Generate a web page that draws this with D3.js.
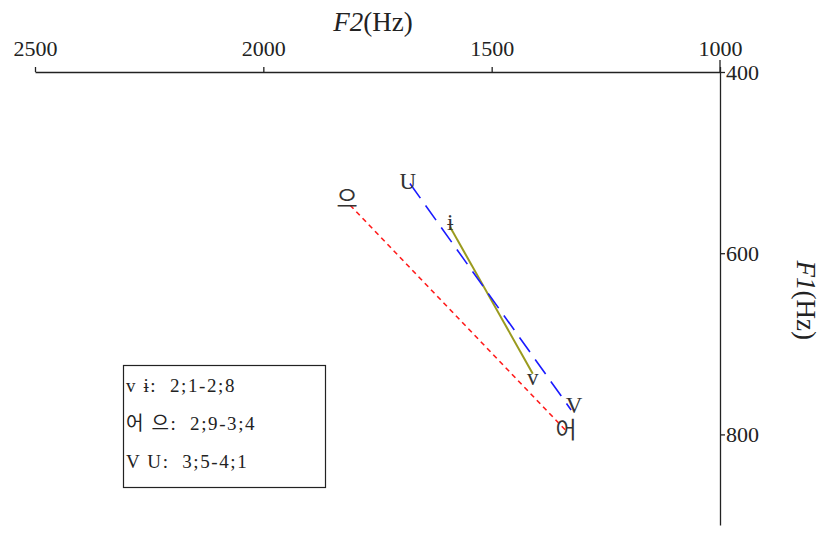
<!DOCTYPE html>
<html><head><meta charset="utf-8">
<script src="https://cdn.jsdelivr.net/npm/d3@7"></script>
<style>body{margin:0;background:#fff}svg{display:block}</style>
</head><body>
<svg id="c" width="827" height="543"></svg>
<script>
// Data (F2, F1 in Hz)
const vowels = ["ɨ", "v", "으", "어", "U", "V"];
const f2 = [1591, 1410, 1810, 1337, 1679, 1326];
const f1 = [571, 733, 547, 796, 523, 773];
const pairs = [["ɨ", "v"], ["으", "어"], ["U", "V"]];
const legendLines = ["v ɨ:  2;1-2;8", "어 으:  2;9-3;4", "V U:  3;5-4;1"];
const xTicks = [2500, 2000, 1500, 1000];
const yTicks = [400, 600, 800];

const svg = d3.select("#c");
const x = d3.scaleLinear().domain([2500, 1000]).range([35, 720]);
const y = d3.scaleLinear().domain([400, 900]).range([72, 525]);
const serif = "'Liberation Serif','Times New Roman',serif";
const kfont = "'Liberation Serif','Noto Sans CJK KR',serif";
const fmt = d3.format("d");

// X axis at top
const xa = svg.append("g").attr("transform", `translate(0,${y(400)})`)
  .call(d3.axisTop(x).tickValues(xTicks).tickFormat(fmt).tickSize(5).tickPadding(11).tickSizeOuter(0));
xa.select(".domain").attr("stroke", "#222").attr("stroke-width", 1.3);
xa.selectAll(".tick line").attr("stroke", "#222").attr("stroke-width", 1.3);
xa.selectAll("text").attr("font-family", serif).attr("font-size", 22).attr("fill", "#222");

// Y axis at right
const ya = svg.append("g").attr("transform", `translate(${x(1000)},0)`)
  .call(d3.axisRight(y).tickValues(yTicks).tickFormat(fmt).tickSize(5).tickPadding(1).tickSizeOuter(0));
ya.select(".domain").attr("stroke", "#222").attr("stroke-width", 1.3);
ya.selectAll(".tick line").attr("stroke", "#222").attr("stroke-width", 1.3);
ya.selectAll("text").attr("font-family", serif).attr("font-size", 22).attr("fill", "#222");
// extension of y axis above the x axis
svg.append("line").attr("x1", x(1000)).attr("x2", x(1000)).attr("y1", y(400) - 12).attr("y2", y(400))
  .attr("stroke", "#222").attr("stroke-width", 1.3);

// Axis titles
const t2 = svg.append("text").attr("x", x(1760)).attr("y", 31).attr("text-anchor", "middle")
  .attr("font-family", serif).attr("font-size", 27).attr("fill", "#222");
t2.append("tspan").attr("font-style", "italic").text("F2");
t2.append("tspan").text("(Hz)");
const t1 = svg.append("text").attr("transform", `translate(797,${y(652)}) rotate(90)`).attr("text-anchor", "middle")
  .attr("font-family", serif).attr("font-size", 27).attr("fill", "#222");
t1.append("tspan").attr("font-style", "italic").text("F1");
t1.append("tspan").text("(Hz)");

// Lines
const idx = v => vowels.indexOf(v);
const styles = [
  {stroke: "#9a9a1e", dash: null, w: 2},
  {stroke: "#ff1a1a", dash: "5,4", w: 1.6},
  {stroke: "#1a1aff", dash: "18,9", w: 1.6}
];
pairs.forEach((p, i) => {
  const a = idx(p[0]), b = idx(p[1]);
  svg.append("line")
    .attr("x1", x(f2[a])).attr("y1", y(f1[a]))
    .attr("x2", x(f2[b])).attr("y2", y(f1[b]))
    .attr("stroke", styles[i].stroke).attr("stroke-width", styles[i].w)
    .attr("stroke-dasharray", styles[i].dash);
});

// Point labels
const labelOffsets = {"ɨ": [0, -4], "v": [0, 4], "으": [-3, -6], "어": [0, 0], "U": [-2, -2], "V": [3, -4]};
vowels.forEach((v, i) => {
  const o = labelOffsets[v];
  svg.append("text").attr("x", x(f2[i]) + o[0]).attr("y", y(f1[i]) + o[1])
    .attr("text-anchor", "middle").attr("dominant-baseline", "central")
    .attr("font-family", kfont).attr("font-size", 23).attr("fill", "#333").text(v);
});

// Legend
svg.append("rect").attr("x", 123.5).attr("y", 365.5).attr("width", 202).attr("height", 122)
  .attr("fill", "#fff").attr("stroke", "#222").attr("stroke-width", 1.2);
legendLines.forEach((t, i) => {
  svg.append("text").attr("x", 126).attr("y", 392 + i * 38).attr("xml:space", "preserve")
    .style("white-space", "pre").attr("letter-spacing", 1.6)
    .attr("font-family", kfont).attr("font-size", 19).attr("fill", "#222").text(t);
});
</script>
</body></html>
